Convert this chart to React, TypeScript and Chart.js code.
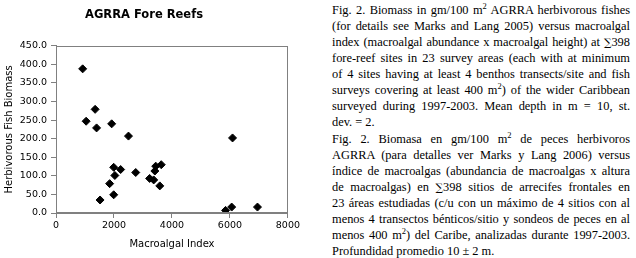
import React, { useEffect, useRef } from "react";
import { Chart, registerables } from "chart.js";

Chart.register(...registerables);

const chartTitle = "AGRRA Fore Reefs";
const xAxisTitle = "Macroalgal Index";
const yAxisTitle = "Herbivorous Fish Biomass";

const macroalgalIndex = [920, 1040, 1350, 1400, 1920, 2500, 1990, 2230, 2030, 2750, 1850, 1990, 1520, 3230, 3370, 3410, 3440, 3630, 3580, 6090, 5850, 6060, 6950];
const fishBiomass = [388, 247, 279, 229, 240, 207, 123, 117, 101, 109, 79, 49, 35, 93, 89, 113, 126, 130, 73, 202, 7, 16, 16];

const xMin = 0, xMax = 8000, xStep = 2000;
const yMin = 0, yMax = 450, yStep = 50;

const SUP = "\u0001";
const SUM = "\u2211";

const captionEn = [
  "Fig. 2. Biomass in gm/100 m\u00012 AGRRA herbivorous fishes",
  "(for details see Marks and Lang 2005) versus macroalgal",
  "index (macroalgal abundance x macroalgal height) at \u2211398",
  "fore-reef sites in 23 survey areas (each with at minimum",
  "of 4 sites having at least 4 benthos transects/site and fish",
  "surveys covering at least 400 m\u00012) of the wider Caribbean",
  "surveyed during 1997-2003. Mean depth in m = 10, st.",
  "dev. = 2.",
];
const captionEs = [
  "Fig. 2. Biomasa en gm/100 m\u00012 de peces herbivoros",
  "AGRRA (para detalles ver Marks y Lang 2006) versus",
  "\u00edndice de macroalgas (abundancia de macroalgas x altura",
  "de macroalgas) en \u2211398 sitios de arrecifes frontales en",
  "23 \u00e1reas estudiadas (c/u con un m\u00e1ximo de 4 sitios con al",
  "menos 4 transectos b\u00e9nticos/sitio y sondeos de peces en al",
  "menos 400 m\u00012) del Caribe, analizadas durante 1997-2003.",
  "Profundidad promedio 10 \u00b1 2 m.",
];

const AXIS = "#808080";

const framePlugin = {
  id: "frame",
  afterDraw(chart: any) {
    const { ctx, chartArea } = chart;
    const l = Math.round(chartArea.left) + 0.5;
    const t = Math.round(chartArea.top) + 0.5;
    const r = Math.round(chartArea.right) - 0.5;
    const b = Math.round(chartArea.bottom) - 0.5;
    ctx.save();
    ctx.strokeStyle = AXIS;
    ctx.lineWidth = 1;
    ctx.strokeRect(l, t, r - l, b - t);
    ctx.restore();
  },
};

function renderLine(text: string) {
  const out: any[] = [];
  let buf = "";
  let k = 0;
  for (let i = 0; i < text.length; i++) {
    const c = text[i];
    if (c === SUP) {
      if (buf) out.push(<span key={k++}>{buf}</span>);
      buf = "";
      out.push(
        <span key={k++} style={{ fontSize: 8.5, position: "relative", top: -5, lineHeight: 0 }}>{text[i + 1]}</span>
      );
      i++;
    } else if (c === SUM) {
      if (buf) out.push(<span key={k++}>{buf}</span>);
      buf = "";
      out.push(
        <span key={k++} style={{ fontFamily: "'DejaVu Serif'", fontSize: 10.5, lineHeight: 0 }}>{c}</span>
      );
    } else {
      buf += c;
    }
  }
  if (buf) out.push(<span key={k++}>{buf}</span>);
  return out;
}

function Caption({ lines, top }: { lines: string[]; top: number }) {
  return (
    <div style={{ position: "absolute", left: 332, top, width: 298, fontFamily: "'Liberation Serif', 'Times New Roman', serif", fontSize: 12.4, lineHeight: "16px", color: "#000" }}>
      {lines.map((text, i) => {
        const last = i === lines.length - 1;
        return (
          <div key={i} style={{ textAlign: last ? "left" : "justify", textAlignLast: last ? "left" : "justify", whiteSpace: "nowrap", height: 16 } as any}>
            {renderLine(text)}
          </div>
        );
      })}
    </div>
  );
}

export default function App() {
  const ref = useRef<HTMLCanvasElement | null>(null);
  useEffect(() => {
    document.body.style.margin = "0";
    const canvas = ref.current!;
    const tickFont = { family: "'DejaVu Sans', Verdana, sans-serif", size: 9.5 };
    const titleFont = { family: "'DejaVu Sans', Verdana, sans-serif", size: 10 };
    const chart = new Chart(canvas, {
      type: "scatter",
      data: {
        datasets: [
          {
            data: macroalgalIndex.map((x, i) => ({ x, y: fishBiomass[i] })),
            backgroundColor: "#000",
            borderColor: "#000",
            pointStyle: "rectRot",
            pointRadius: 4,
            pointBorderWidth: 1,
          },
        ],
      },
      options: {
        animation: false,
        responsive: false,
        maintainAspectRatio: false,
        layout: { padding: { left: 0, top: 0, right: 14, bottom: 0 } },
        plugins: {
          legend: { display: false },
          tooltip: { enabled: false },
          title: {
            display: true,
            text: chartTitle,
            color: "#000",
            font: { family: "'DejaVu Sans', Verdana, sans-serif", size: 11.5, weight: "bold" },
            padding: { top: 8, bottom: 24 },
          },
        },
        scales: {
          x: {
            type: "linear",
            min: xMin,
            max: xMax,
            ticks: { stepSize: xStep, color: "#000", font: tickFont, padding: 2, maxRotation: 0, callback: (v: any) => String(v) },
            grid: { drawOnChartArea: false, drawTicks: true, tickLength: 5, color: AXIS },
            border: { color: AXIS, width: 1 },
            title: { display: true, text: xAxisTitle, color: "#000", font: titleFont, padding: { top: 0, bottom: 8 } },
            afterFit: (s: any) => { s.height = 45; },
          },
          y: {
            type: "linear",
            min: yMin,
            max: yMax,
            ticks: { stepSize: yStep, color: "#000", font: tickFont, padding: 4, callback: (v: any) => Number(v).toFixed(1) },
            grid: { drawOnChartArea: false, drawTicks: true, tickLength: 5, color: AXIS },
            border: { color: AXIS, width: 1 },
            title: { display: true, text: yAxisTitle, color: "#000", font: titleFont, padding: { top: 3, bottom: 0 } },
            afterFit: (s: any) => { s.width = 56; },
          },
        },
      },
      plugins: [framePlugin],
    } as any);
    return () => chart.destroy();
  }, []);
  return (
    <div style={{ position: "fixed", left: 0, top: 0, width: 636, height: 258, background: "#fff", overflow: "hidden" }}>
      <canvas ref={ref} width={302} height={258} style={{ position: "absolute", left: 0, top: 0, width: 302, height: 258 }} />
      <Caption lines={captionEn} top={2} />
      <Caption lines={captionEs} top={131} />
    </div>
  );
}
